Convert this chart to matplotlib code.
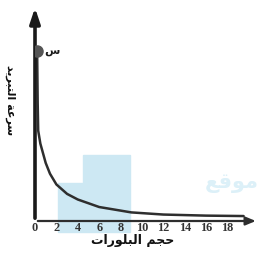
import matplotlib
matplotlib.use("Agg")
import matplotlib.pyplot as plt
from matplotlib.patches import Rectangle

# البيانات
x_vals = [0.2, 0.25, 0.3, 0.5, 1.0, 1.4, 2, 3, 4, 6, 9, 12, 16, 19.5]
y_vals = [7.9, 5.5, 4.2, 3.6, 2.7, 2.2, 1.7, 1.26, 1.0, 0.65, 0.4, 0.3, 0.25, 0.23]
point_x, point_y = 0.2, 7.9
point_label = "س"
x_ticks = [0, 2, 4, 6, 8, 10, 12, 14, 16, 18]
x_title = "حجم البلورات"
y_title = "سرعة التبريد"

# تشكيل الحروف العربية (أشكال العرض) لأن matplotlib لا يربط الحروف
forms = {
    'ح': (0xFEA1, True), 'ج': (0xFE9D, True), 'م': (0xFEE1, True),
    'ل': (0xFEDD, True), 'ب': (0xFE8F, True), 'ت': (0xFE95, True),
    'س': (0xFEB1, True), 'ع': (0xFEC9, True), 'ي': (0xFEF1, True),
    'ق': (0xFED5, True),
    'ا': (0xFE8D, False), 'و': (0xFEED, False), 'ر': (0xFEAD, False),
    'د': (0xFEA9, False), 'ة': (0xFE93, False),
}


def shape(s):
    out = []
    for i, ch in enumerate(s):
        if ch not in forms:
            out.append(ch)
            continue
        base, dual = forms[ch]
        prev = s[i - 1] if i > 0 else ''
        nxt = s[i + 1] if i + 1 < len(s) else ''
        join_prev = prev in forms and forms[prev][1]
        join_next = dual and nxt in forms
        if join_prev and join_next:
            code = base + 3
        elif join_prev:
            code = base + 1
        elif join_next:
            code = base + 2
        else:
            code = base
        out.append(chr(code))
    return ''.join(reversed(out))


W, H = 260, 257
fig = plt.figure(figsize=(W / 100, H / 100), dpi=100)

# العلامة المائية الزرقاء الخفيفة
wm = '#cde8f3'
fig.patches.append(Rectangle((58 / W, 1 - 232 / H), 72 / W, 49 / H,
                             transform=fig.transFigure, color=wm, zorder=0))
fig.patches.append(Rectangle((83 / W, 1 - 183 / H), 47 / W, 28 / H,
                             transform=fig.transFigure, color=wm, zorder=0))
fig.text(259 / W, 1 - 183 / H, shape("موقع"), color='#dcf0f8', fontsize=15,
         fontweight='bold', ha='right', va='center', family='DejaVu Sans',
         zorder=0)

ax = fig.add_axes([35 / W, 36 / H, 223.6 / W, 215 / H])
ax.set_zorder(2)
ax.patch.set_alpha(0)
ax.set_xlim(0, 20.9)
ax.set_ylim(0, 10)
for s in ax.spines.values():
    s.set_visible(False)

dark = '#2e2e2e'
ax.annotate('', xy=(20.9, 0), xytext=(0, 0),
            arrowprops=dict(arrowstyle='-|>,head_length=0.6,head_width=0.25',
                            color=dark, lw=1.6), annotation_clip=False)
ax.annotate('', xy=(0, 10.05), xytext=(0, 0),
            arrowprops=dict(arrowstyle='-|>,head_length=0.9,head_width=0.3',
                            color='#1a1a1a', lw=2.6), annotation_clip=False)

ax.plot(x_vals, y_vals, color=dark, lw=1.8, solid_capstyle='round')
ax.plot([point_x], [point_y], 'o', color='#555555', ms=8, zorder=5)
ax.text(point_x + 1.4, point_y, shape(point_label), fontsize=8, fontweight='bold',
        color='#1a1a1a', va='center', ha='center', family='DejaVu Sans')

ax.set_xticks(x_ticks)
ax.set_xticklabels([str(t) for t in x_ticks], fontsize=8.8, fontweight='bold',
                   color='#333333', family=['Liberation Serif', 'DejaVu Sans'])
ax.set_yticks([])
ax.tick_params(axis='x', length=0, pad=0.5)

ax.set_xlabel(shape(x_title), fontsize=9, fontweight='bold', color='#111111',
              family='DejaVu Sans')
ax.xaxis.set_label_coords((133 - 35) / 223.6, -0.06)
ax.set_ylabel(shape(y_title), fontsize=8, fontweight='bold', color='#111111',
              family='DejaVu Sans', rotation=-90)
ax.yaxis.set_label_coords(-25 / 223.6, (221 - 100) / 215)
ax.yaxis.label.set_va('center')

fig.savefig('out.png', dpi=100)
